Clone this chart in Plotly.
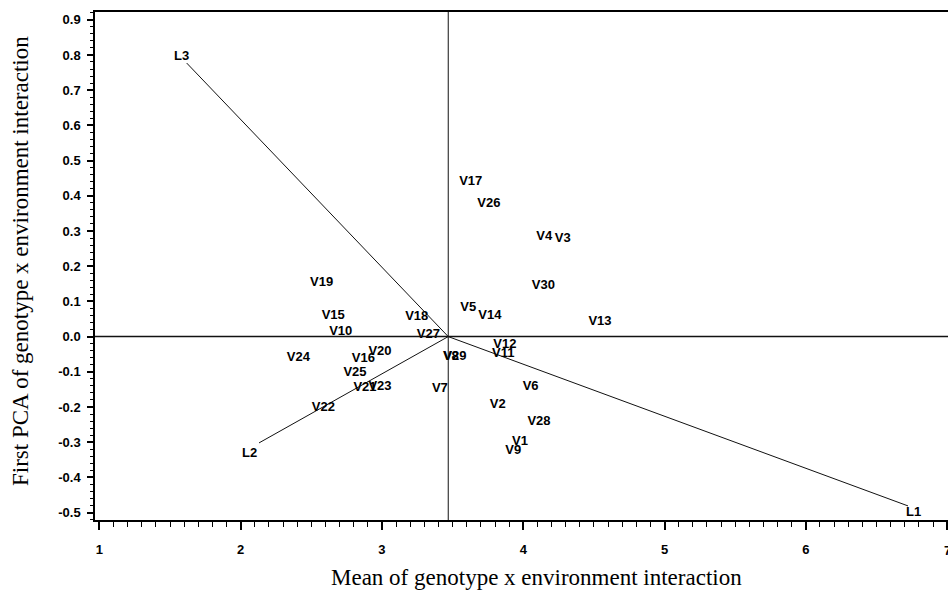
import plotly.graph_objects as go

# Genotype scores (mean, first PCA)
geno_names = ["V1", "V2", "V3", "V4", "V5", "V6", "V7", "V8", "V9", "V10",
              "V11", "V12", "V13", "V14", "V15", "V16", "V17", "V18", "V19", "V20",
              "V21", "V22", "V23", "V24", "V25", "V26", "V27", "V28", "V29", "V30"]
geno_x = [3.977, 3.819, 4.279, 4.149, 3.611, 4.052, 3.410, 3.488, 3.929, 2.708,
          3.858, 3.870, 4.543, 3.764, 2.655, 2.868, 3.628, 3.246, 2.573, 2.986,
          2.880, 2.585, 2.986, 2.408, 2.809, 3.757, 3.328, 4.111, 3.517, 4.142]
geno_y = [-0.299, -0.193, 0.279, 0.285, 0.082, -0.143, -0.147, -0.057, -0.324, 0.014,
          -0.049, -0.022, 0.041, 0.059, 0.060, -0.064, 0.439, 0.057, 0.152, -0.043,
          -0.144, -0.202, -0.142, -0.059, -0.102, 0.376, 0.005, -0.241, -0.057, 0.144]

# Environment vectors
env_names = ["L1", "L2", "L3"]
env_x = [6.723, 2.130, 1.618]
env_y = [-0.481, -0.302, 0.777]
env_label_dx = [5, -10, -5]
env_label_dy = [-6, -10, 8]

grand_mean = 3.469

x_ticks = [1, 2, 3, 4, 5, 6, 7]
y_ticks = [-0.5, -0.4, -0.3, -0.2, -0.1, 0.0, 0.1, 0.2, 0.3, 0.4, 0.5, 0.6, 0.7, 0.8, 0.9]
y_ticktext = ["%.1f" % v for v in y_ticks]

fig = go.Figure()

# Vectors from origin to environments
for ex, ey in zip(env_x, env_y):
    fig.add_trace(go.Scatter(x=[grand_mean, ex], y=[0, ey], mode="lines",
                             line=dict(color="#111", width=1), hoverinfo="skip",
                             showlegend=False))

labfont = dict(family="Liberation Sans", size=13, color="#000", weight="bold")

fig.add_trace(go.Scatter(x=geno_x, y=geno_y, mode="text", text=geno_names,
                         textposition="middle center", textfont=labfont,
                         showlegend=False))

for name, ex, ey, dx, dy in zip(env_names, env_x, env_y, env_label_dx, env_label_dy):
    fig.add_annotation(x=ex, y=ey, text=name, showarrow=False, xshift=dx, yshift=dy,
                       font=labfont)

# Reference lines
fig.add_shape(type="line", xref="x", yref="paper", x0=grand_mean, x1=grand_mean, y0=0, y1=1,
              line=dict(color="#111", width=1))
fig.add_shape(type="line", xref="paper", yref="y", x0=0, x1=1, y0=0, y1=0,
              line=dict(color="#111", width=1.5))

tickfont = dict(family="Liberation Sans", size=13, color="#000", weight="bold")

fig.update_layout(
    width=948, height=591,
    margin=dict(l=95, r=0, t=12, b=71),
    plot_bgcolor="white", paper_bgcolor="white",
    xaxis=dict(range=[0.969, 7.006], tickvals=x_ticks, showgrid=False, zeroline=False,
               showline=True, linecolor="#000", linewidth=1.5, mirror=True,
               ticks="outside", ticklen=8, tickcolor="#000", tickwidth=1.5,
               minor=dict(ticks="outside", ticklen=5, dtick=0.1, tickcolor="#000", tickwidth=1),
               tickfont=tickfont, ticklabelstandoff=9),
    yaxis=dict(range=[-0.521, 0.922], tickvals=y_ticks, ticktext=y_ticktext, showgrid=False,
               zeroline=False, showline=True, linecolor="#000", linewidth=1.5,
               ticks="outside", ticklen=6, tickcolor="#000", tickwidth=1.5,
               minor=dict(ticks="outside", ticklen=3, dtick=0.02, tickcolor="#000", tickwidth=1),
               tickfont=tickfont, ticklabelstandoff=4),
)

# last x tick label sits on the right edge and is partly cut, as in the reference
fig.add_annotation(xref="x", yref="paper", x=x_ticks[-1], y=(520 - 550) / 508,
                   text=str(x_ticks[-1]), showarrow=False, xanchor="center", yanchor="middle",
                   font=tickfont)

fig.add_annotation(xref="paper", yref="paper", x=(536.7 - 95) / 853, y=(520 - 577) / 508,
                   text="Mean of genotype x environment interaction", showarrow=False,
                   xanchor="center", yanchor="middle",
                   font=dict(family="Liberation Serif", size=23, color="#000"))
fig.add_annotation(xref="paper", yref="paper", x=(20 - 95) / 853, y=(520 - 261) / 508,
                   text="First PCA of genotype x environment interaction", showarrow=False,
                   textangle=-90, xanchor="center", yanchor="middle",
                   font=dict(family="Liberation Serif", size=23, color="#000"))

fig.write_html("out.html", config={"displayModeBar": False},
               post_script="document.body.style.margin='0';document.body.style.overflow='hidden';")
